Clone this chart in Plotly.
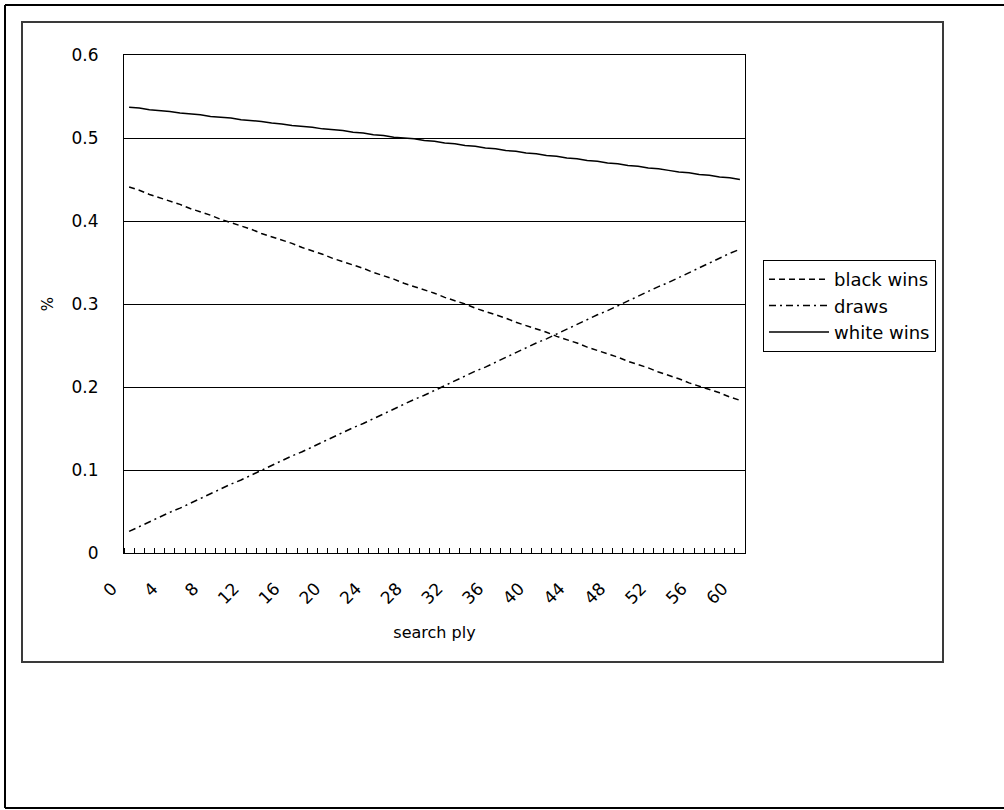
import plotly.graph_objects as go

# ---- data ----
ply = list(range(0, 61))
black_wins = [0.441, 0.437, 0.432, 0.428, 0.424, 0.420, 0.415, 0.411, 0.407, 0.402,
              0.398, 0.394, 0.390, 0.385, 0.381, 0.377, 0.373, 0.368, 0.364, 0.360,
              0.355, 0.351, 0.347, 0.343, 0.338, 0.334, 0.330, 0.325, 0.321, 0.317,
              0.313, 0.308, 0.304, 0.300, 0.295, 0.291, 0.287, 0.283, 0.278, 0.274,
              0.270, 0.266, 0.261, 0.257, 0.253, 0.248, 0.244, 0.240, 0.236, 0.231,
              0.227, 0.223, 0.218, 0.214, 0.210, 0.205, 0.201, 0.197, 0.193, 0.188,
              0.184]
draws = [0.026, 0.032, 0.037, 0.043, 0.049, 0.054, 0.060, 0.066, 0.071, 0.077,
         0.083, 0.088, 0.094, 0.100, 0.105, 0.111, 0.117, 0.122, 0.128, 0.134,
         0.139, 0.145, 0.151, 0.156, 0.162, 0.168, 0.173, 0.179, 0.185, 0.190,
         0.196, 0.202, 0.207, 0.213, 0.219, 0.224, 0.230, 0.236, 0.241, 0.247,
         0.253, 0.258, 0.264, 0.270, 0.275, 0.281, 0.287, 0.292, 0.298, 0.304,
         0.310, 0.315, 0.321, 0.326, 0.332, 0.338, 0.344, 0.349, 0.355, 0.361,
         0.366]
white_wins = [0.537, 0.536, 0.534, 0.533, 0.532, 0.530, 0.529, 0.528, 0.526, 0.525,
              0.524, 0.522, 0.521, 0.520, 0.518, 0.517, 0.515, 0.514, 0.513, 0.511,
              0.510, 0.509, 0.507, 0.506, 0.504, 0.503, 0.501, 0.500, 0.499, 0.497,
              0.496, 0.494, 0.493, 0.491, 0.490, 0.488, 0.487, 0.485, 0.484, 0.482,
              0.481, 0.479, 0.478, 0.476, 0.475, 0.473, 0.472, 0.470, 0.469, 0.467,
              0.466, 0.464, 0.463, 0.461, 0.459, 0.458, 0.456, 0.455, 0.453, 0.452,
              0.450]
x_tick_labels = [0, 4, 8, 12, 16, 20, 24, 28, 32, 36, 40, 44, 48, 52, 56, 60]
y_ticks = [0, 0.1, 0.2, 0.3, 0.4, 0.5, 0.6]
y_tick_text = ["0", "0.1", "0.2", "0.3", "0.4", "0.5", "0.6"]

# ---- layout geometry (pixels) ----
W, H = 1004, 810
L, R, T, B = 124, 745, 55, 553
PW, PH = R - L, B - T


def px(x):
    return (x - L) / PW


def py(y):
    return (B - y) / PH


FONT = "DejaVu Sans"

fig = go.Figure()
fig.add_trace(go.Scatter(x=ply, y=black_wins, mode="lines", name="black wins",
                         line=dict(color="black", width=1.5, dash="6px,4px")))
fig.add_trace(go.Scatter(x=ply, y=draws, mode="lines", name="draws",
                         line=dict(color="black", width=1.5, dash="7px,4px,2px,4px")))
fig.add_trace(go.Scatter(x=ply, y=white_wins, mode="lines", name="white wins",
                         line=dict(color="black", width=1.5)))

fig.update_layout(
    width=W, height=H,
    margin=dict(l=L, r=W - R, t=T, b=H - B, pad=0),
    paper_bgcolor="white", plot_bgcolor="white",
    font=dict(family=FONT, size=16, color="black"),
    showlegend=True,
    legend=dict(x=px(763), y=py(260), xanchor="left", yanchor="top",
                bordercolor="black", borderwidth=1, bgcolor="white",
                itemwidth=60,
                font=dict(family=FONT, size=18), tracegroupgap=0),
    xaxis=dict(range=[-0.5, 60.5], tickmode="array", tickvals=x_tick_labels,
               ticktext=[str(v) for v in x_tick_labels], tickangle=-45,
               ticks="", showgrid=False, zeroline=False,
               showline=True, linecolor="black", linewidth=1, mirror=True,
               ticklabelstandoff=18, ticklabelshift=-17,
               tickfont=dict(family=FONT, size=17),
               minor=dict(ticks="inside", ticklen=5, tickcolor="black", tickwidth=1,
                          tick0=-0.5, dtick=1, showgrid=False),
               title=dict(text="search ply", font=dict(family=FONT, size=16), standoff=19)),
    yaxis=dict(range=[0, 0.6], tickmode="array", tickvals=y_ticks, ticktext=y_tick_text,
               ticks="", showgrid=True, gridcolor="black", gridwidth=1, zeroline=False,
               showline=True, linecolor="black", linewidth=1, mirror=True,
               ticklabelstandoff=21,
               tickfont=dict(family=FONT, size=17),
               title=dict(text="%", font=dict(family=FONT, size=15), standoff=14)),
    shapes=[
        dict(type="rect", xref="paper", yref="paper",
             x0=px(22), x1=px(943), y0=py(22), y1=py(662),
             line=dict(color="#3a3a3a", width=2), fillcolor="rgba(0,0,0,0)", layer="below"),
        dict(type="line", xref="paper", yref="paper",
             x0=px(5), x1=px(1010), y0=py(5), y1=py(5), line=dict(color="black", width=2)),
        dict(type="line", xref="paper", yref="paper",
             x0=px(5), x1=px(5), y0=py(5), y1=py(808), line=dict(color="black", width=2)),
        dict(type="line", xref="paper", yref="paper",
             x0=px(5), x1=px(1010), y0=py(808), y1=py(808), line=dict(color="black", width=2)),
    ],
)

fig.write_html("out.html", config={"displayModeBar": False},
               post_script="document.body.style.margin='0';")
